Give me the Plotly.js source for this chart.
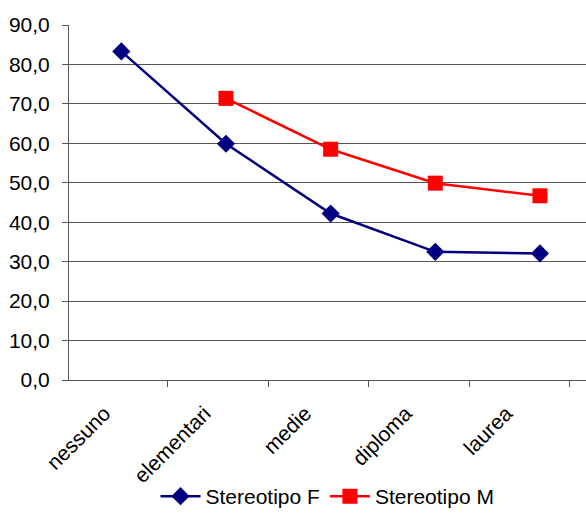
<!DOCTYPE html>
<html>
<head>
<meta charset="utf-8">
<script src="https://cdn.plot.ly/plotly-3.0.1.min.js"></script>
<style>html,body{margin:0;padding:0;background:#fff;}#chart{width:586px;height:517px;}</style>
</head>
<body>
<div id="chart"></div>
<script>
const categories = ["nessuno", "elementari", "medie", "diploma", "laurea"];
const stereotipoF = [83.3, 59.9, 42.2, 32.5, 32.1];
const stereotipoM = [null, 71.4, 58.5, 49.9, 46.7];
const yTickValues = [0, 10, 20, 30, 40, 50, 60, 70, 80, 90];

const catIndex = categories.map((c, i) => i);
const boundaries = categories.map((c, i) => i - 0.5).concat([categories.length - 0.5]);

const traces = [
  {
    x: categories, y: stereotipoF, name: "Stereotipo F",
    type: "scatter", mode: "lines+markers",
    line: {color: "#000080", width: 2.5},
    marker: {symbol: "diamond", size: 14, color: "#000080"}
  },
  {
    x: categories, y: stereotipoM, name: "Stereotipo M",
    type: "scatter", mode: "lines+markers", connectgaps: false,
    line: {color: "#FF0000", width: 2.5},
    marker: {symbol: "square", size: 15, color: "#FF0000"}
  },
  {
    x: catIndex, y: categories.map(() => null), xaxis: "x2", yaxis: "y",
    type: "scatter", mode: "markers", showlegend: false, hoverinfo: "skip",
    marker: {opacity: 0}
  }
];

const layout = {
  width: 586, height: 517,
  margin: {l: 69, r: 0, t: 25, b: 133},
  paper_bgcolor: "#ffffff", plot_bgcolor: "#ffffff",
  separators: ",.",
  font: {family: "Liberation Sans, Arial, sans-serif", size: 21, color: "#000"},
  showlegend: true,
  legend: {orientation: "h", x: 0.5, xanchor: "center", y: -0.33, yanchor: "middle",
           font: {size: 21}, itemwidth: 40, traceorder: "normal"},
  xaxis: {
    type: "category", range: [-0.5, 4.44], automargin: false,
    showgrid: false, zeroline: false,
    showline: true, linecolor: "#555", linewidth: 1,
    ticks: "", showticklabels: false
  },
  xaxis2: {
    type: "linear", overlaying: "x", anchor: "y", side: "bottom", automargin: false,
    range: [-0.48, 4.664],
    showgrid: false, zeroline: false, showline: false,
    tickmode: "array", tickvals: catIndex, ticktext: categories,
    ticks: "", tickangle: -45, ticklabelshift: -13, ticklabelstandoff: 16,
    tickfont: {size: 21},
    minor: {tickmode: "array", tickvals: boundaries, ticks: "outside", ticklen: 6, tickcolor: "#555", showgrid: false}
  },
  yaxis: {
    range: [0, 90], tickvals: yTickValues, tickformat: ".1f", automargin: false,
    showgrid: true, gridcolor: "#555", gridwidth: 1,
    zeroline: false, showline: true, linecolor: "#555", linewidth: 1,
    ticks: "outside", ticklen: 6, tickcolor: "#555", ticklabelstandoff: 8,
    tickfont: {size: 21}
  }
};

Plotly.newPlot("chart", traces, layout, {staticPlot: true, displayModeBar: false});
</script>
</body>
</html>
